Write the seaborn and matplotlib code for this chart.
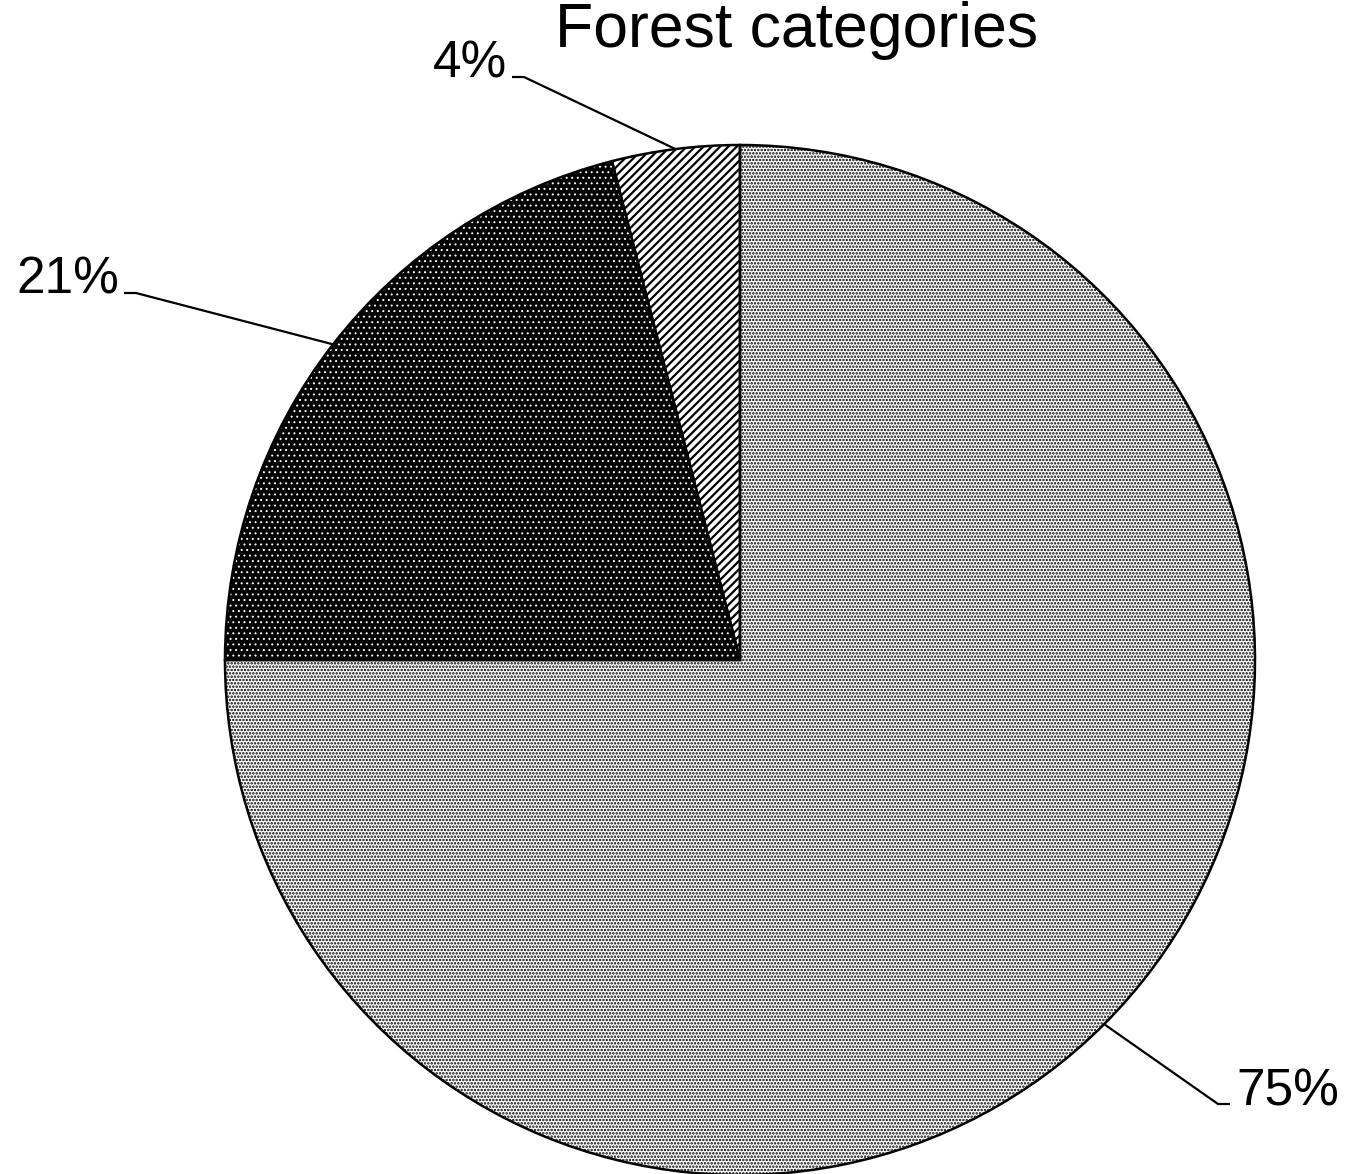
import numpy as np
import matplotlib
matplotlib.use("Agg")
import matplotlib.pyplot as plt
import seaborn as sns

sns.set_theme(style="white")
plt.rcParams['font.family'] = ['Liberation Sans', 'DejaVu Sans']
plt.rcParams['hatch.linewidth'] = 1.2

# Forest category shares (percent), drawn clockwise from 12 o'clock
categories = ["Category A", "Category B", "Category C"]
shares = [75, 21, 4]
labels = ["75%", "21%", "4%"]

W, H = 1346, 1174
cx, cy, R = 740, 660, 515  # pie centre and radius in pixels

fig = plt.figure(figsize=(W / 100, H / 100), dpi=100)
ax = fig.add_axes([0, 0, 1, 1])

# textured fills: face colour / hatch colour / hatch pattern / hatch width
faces = ['white', 'black', 'white']
hatch_cols = ['black', 'white', 'black']
hatches = ['.....', '...', '////']
hatch_lws = [1.2, 0.7, 1.6]

wedges, _ = ax.pie(shares, startangle=90, counterclock=False, radius=1.0,
                   center=(0, 0), frame=True)
for w, fc, hc, h, hlw in zip(wedges, faces, hatch_cols, hatches, hatch_lws):
    w.set_facecolor(fc)
    w.set_edgecolor(hc)
    w.set_hatch(h)
    w.set_linewidth(0)
    if hasattr(w, 'set_hatch_linewidth'):
        w.set_hatch_linewidth(hlw)

# outlines on top
outl, _ = ax.pie(shares, startangle=90, counterclock=False, radius=1.0,
                 center=(0, 0), frame=True,
                 wedgeprops=dict(facecolor='none', edgecolor='black', linewidth=1.8))
ax.set_xlim(-cx / R, (W - cx) / R)
ax.set_ylim(-(H - cy) / R, cy / R)
ax.set_aspect('equal')
ax.axis('off')

# leader lines from slice mid-angles to labels
label_pos = {  # label anchor (pixels): text x, baseline y, side
    "75%": (1236, 1105, 'left'),
    "21%": (119, 294, 'right'),
    "4%": (507, 78, 'right'),
}
elbow_len = 12
for w, lab in zip(outl, labels):
    mid = np.deg2rad((w.theta1 + w.theta2) / 2)
    ex, ey = np.cos(mid), np.sin(mid)
    px, py, side = label_pos[lab]
    tx, ty = (px - cx) / R, (cy - py) / R
    if side == 'left':
        x0 = tx - 6 / R
        x1 = x0 - elbow_len / R
    else:
        x0 = tx + 5 / R
        x1 = x0 + elbow_len / R
    ax.plot([ex, x1, x0], [ey, ty + 1 / R, ty + 1 / R], color='black', lw=1.6,
            solid_capstyle='butt')
    ax.text(tx, ty, lab, ha=side, va='baseline', fontsize=37, color='black')

ax.text((797 - cx) / R, (cy - 47) / R, "Forest categories", ha='center',
        va='baseline', fontsize=45, color='black')

fig.savefig("out.png", dpi=100, facecolor='white')
